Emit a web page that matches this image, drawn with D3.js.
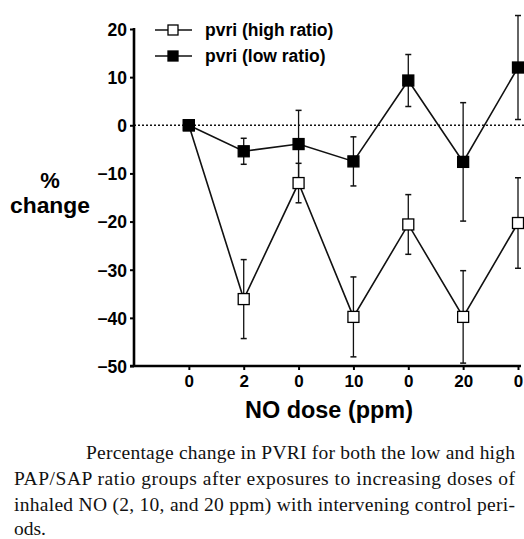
<!DOCTYPE html>
<html>
<head>
<meta charset="utf-8">
<script src="https://cdn.jsdelivr.net/npm/d3@7"></script>
<style>
  html, body { margin: 0; padding: 0; background: #fff; }
  svg { display: block; }
</style>
</head>
<body>
<svg id="chart" width="524" height="539"></svg>
<script>
// NO dose sequence (control periods between exposures)
const doseLabels = ["0", "2", "0", "10", "0", "20", "0"];
// Percentage change in PVRI, mean and error
const highRatio    = [0, -36.1, -12.0, -39.8, -20.6, -39.8, -20.3];
const highRatioErr = [0, 8.2, 4.1, 8.3, 6.2, 9.6, 9.4];
const lowRatio     = [0, -5.4, -3.9, -7.5, 9.3, -7.6, 12.0];
const lowRatioErr  = [0, 2.7, 7.0, 5.1, 5.4, 12.3, 10.8];
const yTicks = [20, 10, 0, -10, -20, -30, -40, -50];
const seriesNames = ["pvri (high ratio)", "pvri (low ratio)"];
const captionLines = [
  "Percentage change in PVRI for both the low and high",
  "PAP/SAP ratio groups after exposures to increasing doses of",
  "inhaled NO (2, 10, and 20 ppm) with intervening control peri-",
  "ods."
];

const svg = d3.select("#chart");
const sans = "'Liberation Sans', Arial, Helvetica, sans-serif";
const serif = "'Liberation Serif', 'Times New Roman', Times, serif";

const x = d3.scaleLinear().domain([-1, 6]).range([134, 518]);
const y = d3.scaleLinear().domain([-50, 20]).range([366, 29]);

// dotted zero reference line
svg.append("line")
  .attr("x1", x(-1)).attr("x2", 524)
  .attr("y1", y(0)).attr("y2", y(0))
  .attr("stroke", "#111").attr("stroke-width", 1.6)
  .attr("stroke-dasharray", "2,2");

// axes
const yAxis = d3.axisLeft(y).tickValues(yTicks).tickSize(4).tickPadding(3);
const gy = svg.append("g").attr("transform", `translate(${x(-1)},0)`).call(yAxis);
gy.select(".domain").attr("stroke-width", 2.6).attr("d", `M0,${y(20) - 1}V${y(-50) + 1}`);
gy.selectAll(".tick line").attr("stroke-width", 2);
gy.selectAll(".tick text")
  .attr("font-family", sans).attr("font-weight", "bold").attr("font-size", 17.5)
  .attr("fill", "#000").attr("dy", "0.36em");

const xAxis = d3.axisBottom(x).tickValues(d3.range(doseLabels.length))
  .tickFormat(i => doseLabels[i]).tickSize(4).tickPadding(5);
const gx = svg.append("g").attr("transform", `translate(0,${y(-50)})`).call(xAxis);
gx.select(".domain").attr("stroke-width", 2.6).attr("d", `M${x(-1) - 4},0H${x(6) + 3}`);
gx.selectAll(".tick line").attr("stroke-width", 2);
gx.selectAll(".tick text")
  .attr("font-family", sans).attr("font-weight", "bold").attr("font-size", 17)
  .attr("fill", "#000");

// axis titles
svg.append("text").attr("x", 50).attr("y", 188).attr("text-anchor", "middle")
  .attr("font-family", sans).attr("font-weight", "bold").attr("font-size", 22)
  .text("%");
svg.append("text").attr("x", 10).attr("y", 213)
  .attr("font-family", sans).attr("font-weight", "bold").attr("font-size", 21.5)
  .attr("textLength", 80).attr("lengthAdjust", "spacingAndGlyphs")
  .text("change");
svg.append("text").attr("x", 245).attr("y", 418)
  .attr("font-family", sans).attr("font-weight", "bold").attr("font-size", 23.5)
  .attr("textLength", 168).attr("lengthAdjust", "spacingAndGlyphs")
  .text("NO dose (ppm)");

// series: error bars, connecting line, square markers
const series = [
  { vals: highRatio, errs: highRatioErr, fill: "#fff" },
  { vals: lowRatio, errs: lowRatioErr, fill: "#000" }
];
const capW = 3;
const sq = 11;

series.forEach(s => {
  const g = svg.append("g");
  s.vals.forEach((v, i) => {
    const e = s.errs[i];
    if (!e) return;
    const lo = Math.max(v - e, -50);
    g.append("line").attr("x1", x(i)).attr("x2", x(i))
      .attr("y1", y(v + e)).attr("y2", y(lo))
      .attr("stroke", "#111").attr("stroke-width", 1.3);
    [v + e, lo].forEach(t => {
      g.append("line").attr("x1", x(i) - capW).attr("x2", x(i) + capW)
        .attr("y1", y(t)).attr("y2", y(t))
        .attr("stroke", "#111").attr("stroke-width", 1.5);
    });
  });
  g.append("path")
    .attr("d", d3.line().x((d, i) => x(i)).y(d => y(d))(s.vals))
    .attr("fill", "none").attr("stroke", "#111").attr("stroke-width", 1.6);
});

series.forEach(s => {
  svg.append("g").selectAll("rect").data(s.vals).join("rect")
    .attr("x", (d, i) => x(i) - sq / 2).attr("y", d => y(d) - sq / 2)
    .attr("width", sq).attr("height", sq)
    .attr("fill", s.fill).attr("stroke", "#000").attr("stroke-width", 1.3);
});

// legend
const legY = [30, 56];
seriesNames.forEach((name, k) => {
  const g = svg.append("g");
  g.append("line").attr("x1", 155).attr("x2", 192).attr("y1", legY[k]).attr("y2", legY[k])
    .attr("stroke", "#111").attr("stroke-width", 1.6);
  g.append("rect").attr("x", 173 - 5).attr("y", legY[k] - 5).attr("width", 10).attr("height", 10)
    .attr("fill", series[k].fill).attr("stroke", "#000").attr("stroke-width", 1.3);
  g.append("text").attr("x", 205).attr("y", legY[k]).attr("dy", "0.35em")
    .attr("font-family", sans).attr("font-weight", "bold").attr("font-size", 17.5)
    .text(name);
});

// caption, justified
const capX = [86, 14, 14, 14];
const capB = [459, 485, 511, 535];
captionLines.forEach((t, i) => {
  const txt = svg.append("text").attr("x", capX[i]).attr("y", capB[i])
    .attr("font-family", serif).attr("font-size", 19.5).attr("fill", "#111")
    .text(t);
  if (i < 3) txt.attr("textLength", 515 - capX[i]).attr("lengthAdjust", "spacing");
});
</script>
</body>
</html>
